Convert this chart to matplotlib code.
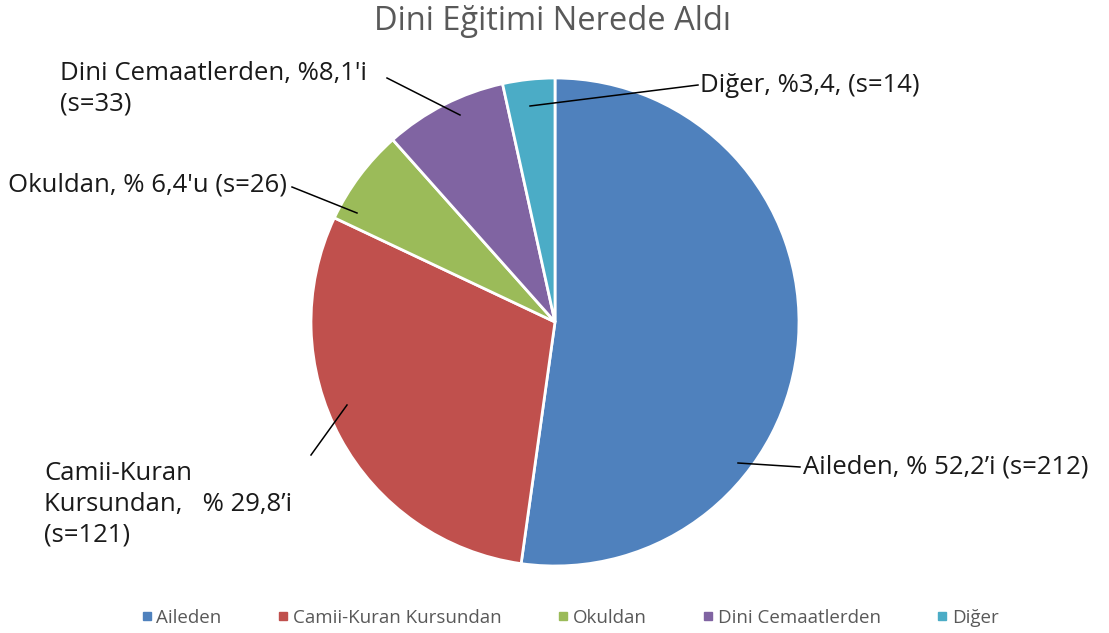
import matplotlib
matplotlib.use('Agg')
import matplotlib.pyplot as plt
from matplotlib.lines import Line2D

# veri
kategoriler = ['Aileden', 'Camii-Kuran Kursundan', 'Okuldan',
               'Dini Cemaatlerden', 'Diğer']
sayilar = [212, 121, 26, 33, 14]
etiketler = ['Aileden, % 52,2’i (s=212)',
             'Camii-Kuran\nKursundan,   % 29,8’i\n(s=121)',
             "Okuldan, % 6,4'u (s=26)",
             "Dini Cemaatlerden, %8,1'i\n(s=33)",
             'Diğer, %3,4, (s=14)']
renkler = ['#4F81BD', '#C0504D', '#9BBB59', '#8064A2', '#4BACC6']
baslik = 'Dini Eğitimi Nerede Aldı'

W, H = 1109, 633
# etiket yerleri ve cizgi uclari (piksel)
etiket_xy = [(803, 467), (44, 504), (8, 185), (60, 89), (700, 85)]
cizgi = [((738, 463), (800, 467)), ((347, 405), (311, 455)),
         ((357, 213), (292, 187)), ((460, 115), (387, 78)),
         ((530, 106), (698, 85))]

plt.rcParams['font.family'] = ['Open Sans', 'DejaVu Sans']

fig = plt.figure(figsize=(W / 100, H / 100), dpi=100)
ax = fig.add_axes([0, 0, 1, 1])


def py(y):
    return H - y


ax.pie(sayilar, colors=renkler, startangle=90, counterclock=False,
       center=(555, py(322)), radius=244, frame=True,
       wedgeprops=dict(edgecolor='white', linewidth=2))
ax.set_xlim(0, W)
ax.set_ylim(0, H)
ax.axis('off')

for (x, y), t in zip(etiket_xy, etiketler):
    ax.text(x, py(y), t, ha='left', va='center', fontsize=18.5,
            color='#1a1a1a', linespacing=1.3)
for (a, b) in cizgi:
    ax.plot([a[0], b[0]], [py(a[1]), py(b[1])], color='black', lw=1.1)

ax.text(553, py(21), baslik, ha='center', va='center', fontsize=23.5,
        color='#595959')

handles = [Line2D([], [], marker='s', ls='', color=c, markersize=6)
           for c in renkler]
fig.legend(handles, kategoriler, loc='center', bbox_to_anchor=(0.513, 1 - 618 / H),
           ncol=5, frameon=False, fontsize=13.5, labelcolor='#595959',
           handletextpad=0.1, columnspacing=2.9, handlelength=0.8)

plt.savefig('out.png', dpi=100)
plt.close(fig)
